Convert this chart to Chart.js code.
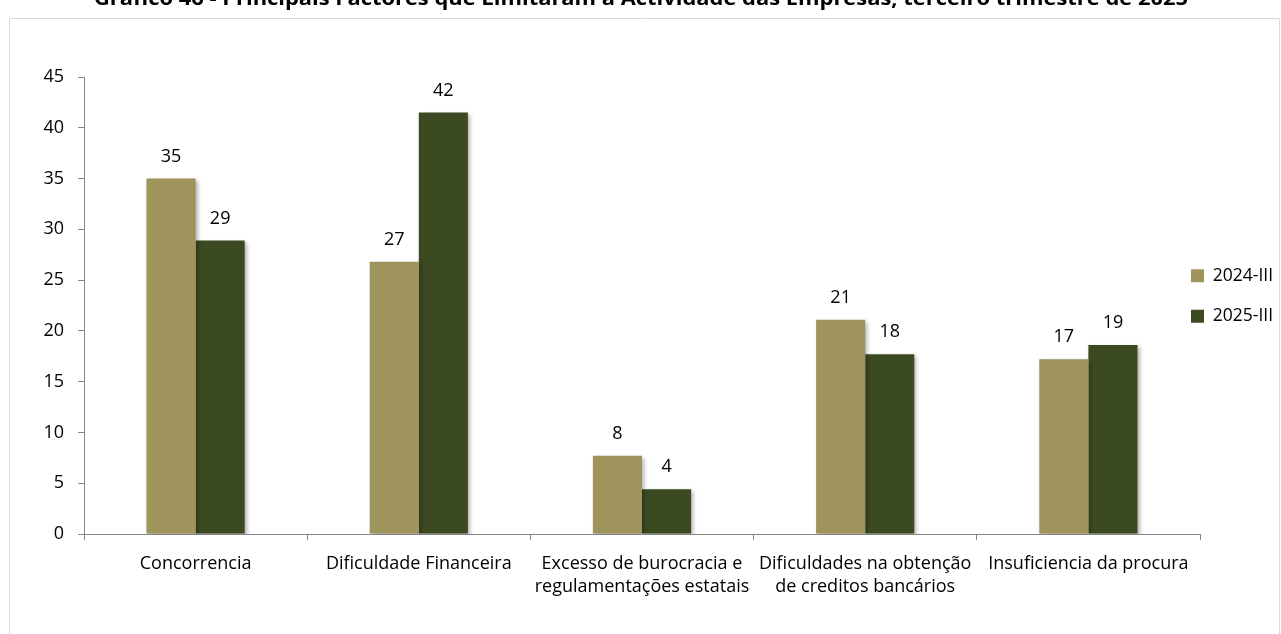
<!doctype html>
<html lang="pt">
<head>
  <meta charset="utf-8">
  <title>Grafico 46</title>
  <script src="https://cdn.jsdelivr.net/npm/chart.js@4/dist/chart.umd.min.js"></script>
  <style>
    html, body { margin: 0; padding: 0; background: #fff; }
    #wrap { width: 1281px; height: 634px; position: relative; }
  </style>
</head>
<body>
<div id="wrap"><canvas id="chart" width="1281" height="634"></canvas></div>
<script>
// data
var categories = [
  "Concorrencia",
  "Dificuldade Financeira",
  ["Excesso de burocracia e", "regulamentações estatais"],
  ["Dificuldades na obtenção", "de creditos bancários"],
  "Insuficiencia da procura"
];
var series2024 = [35.0, 26.8, 7.7, 21.1, 17.2];
var series2025 = [28.9, 41.5, 4.4, 17.7, 18.6];
var seriesNames = ["2024-III", "2025-III"];
var yTicks = [0, 5, 10, 15, 20, 25, 30, 35, 40, 45];
var titleText = "Gráfico 46 - Principais Factores que Limitaram a Actividade das Empresas, terceiro trimestre de 2025";

var FONT = "'Open Sans', sans-serif";

// frame + cut-off title at the top
var framePlugin = {
  id: "frame",
  beforeDraw: function(chart) {
    var ctx = chart.ctx;
    ctx.save();
    ctx.strokeStyle = "#d9d9d9";
    ctx.lineWidth = 1;
    ctx.beginPath();
    ctx.moveTo(9.5, 700);
    ctx.lineTo(9.5, 18.5);
    ctx.lineTo(1279.5, 18.5);
    ctx.lineTo(1279.5, 700);
    ctx.stroke();

    ctx.fillStyle = "#000";
    ctx.font = "bold 20px " + FONT;
    ctx.textAlign = "center";
    ctx.textBaseline = "alphabetic";
    var w = ctx.measureText(titleText).width;
    ctx.translate(641, 5);
    ctx.scale(1094 / w, 1);
    ctx.fillText(titleText, 0, 0);
    ctx.restore();
  },
  // legend sits over the right end of the plot, a bit above centre
  afterLayout: function(chart) {
    var lg = chart.legend;
    var pad = lg.options.labels.padding;
    var w = lg.width, h = lg.height;
    lg.left = 1191 - pad;
    lg.right = lg.left + w;
    lg.top = 296 - h / 2;
    lg.bottom = lg.top + h;
  }
};

// soft shadow under bars, like the spreadsheet original
var shadowPlugin = {
  id: "barShadow",
  beforeDatasetsDraw: function(chart) {
    var ctx = chart.ctx;
    ctx.save();
    ctx.shadowColor = "rgba(0,0,0,0.3)";
    ctx.shadowBlur = 4;
    ctx.shadowOffsetX = 2;
    ctx.shadowOffsetY = 2;
  },
  afterDatasetsDraw: function(chart) {
    chart.ctx.restore();
  }
};

// rounded value labels above each bar
var labelPlugin = {
  id: "valueLabels",
  afterDatasetsDraw: function(chart) {
    var ctx = chart.ctx;
    ctx.save();
    ctx.fillStyle = "#000";
    ctx.font = "18px " + FONT;
    ctx.textAlign = "center";
    ctx.textBaseline = "alphabetic";
    chart.data.datasets.forEach(function(ds, i) {
      chart.getDatasetMeta(i).data.forEach(function(bar, j) {
        ctx.fillText(Math.round(ds.data[j]), bar.x, bar.y - 17);
      });
    });
    ctx.restore();
  }
};

var ctx = document.getElementById("chart").getContext("2d");
var myChart = new Chart(ctx, {
  type: "bar",
  data: {
    labels: categories,
    datasets: [{
      label: seriesNames[0],
      data: series2024,
      backgroundColor: "#9f945b",
      borderWidth: 0,
      categoryPercentage: 0.44,
      barPercentage: 1.0
    }, {
      label: seriesNames[1],
      data: series2025,
      backgroundColor: "#3c4a22",
      borderWidth: 0,
      categoryPercentage: 0.44,
      barPercentage: 1.0
    }]
  },
  options: {
    responsive: false,
    animation: false,
    layout: { padding: { top: 77, right: 81, left: 0, bottom: 0 } },
    plugins: {
      legend: {
        position: "chartArea",
        labels: {
          boxWidth: 13,
          boxHeight: 13,
          padding: 23,
          color: "#000",
          font: { family: FONT, size: 17.5 }
        }
      },
      tooltip: { enabled: false }
    },
    scales: {
      x: {
        grid: {
          display: true,
          drawOnChartArea: false,
          offset: true,
          tickLength: 6,
          color: "#868686"
        },
        border: { color: "#868686" },
        ticks: {
          color: "#000",
          maxRotation: 0,
          autoSkip: false,
          padding: 13,
          font: { family: FONT, size: 18, lineHeight: 1.25 }
        },
        afterFit: function(scale) { scale.height = 100; }
      },
      y: {
        min: 0,
        max: 45,
        afterBuildTicks: function(scale) {
          scale.ticks = yTicks.map(function(v) { return { value: v }; });
        },
        grid: {
          display: true,
          drawOnChartArea: false,
          tickLength: 6,
          color: "#868686"
        },
        border: { color: "#868686" },
        ticks: {
          color: "#000",
          padding: 14,
          font: { family: FONT, size: 18 }
        },
        afterFit: function(scale) { scale.width = 84; }
      }
    }
  },
  plugins: [framePlugin, shadowPlugin, labelPlugin]
});
</script>
</body>
</html>
